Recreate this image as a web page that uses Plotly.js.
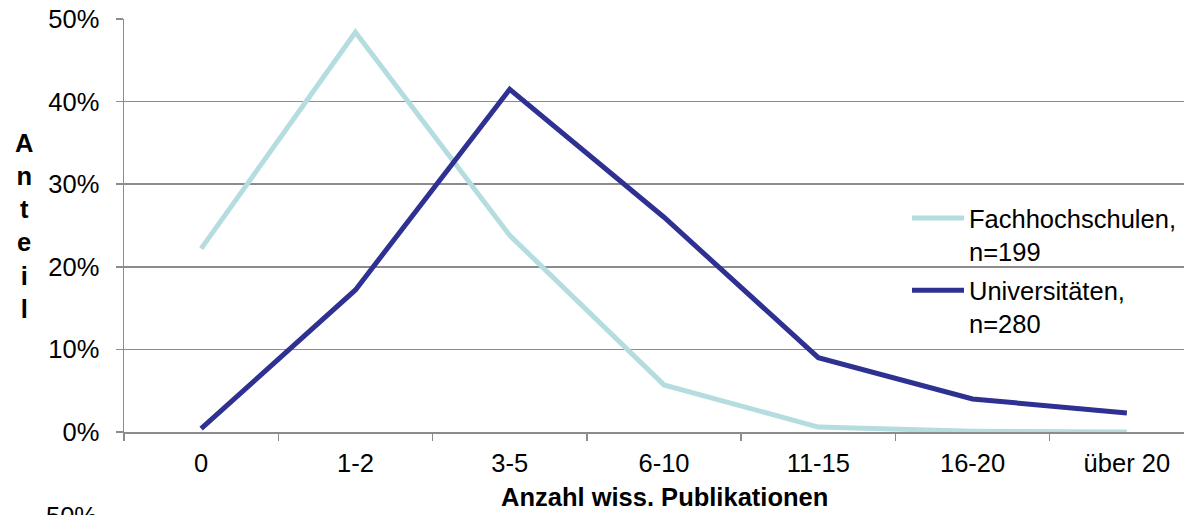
<!DOCTYPE html>
<html>
<head>
<meta charset="utf-8">
<script src="https://cdn.plot.ly/plotly-3.0.1.min.js"></script>
<style>
html, body { margin: 0; padding: 0; overflow: hidden; background: #fff; }
#chart { width: 1210px; height: 515px; }
</style>
</head>
<body>
<div id="chart"></div>
<script>
// Data
const categories = ['0', '1-2', '3-5', '6-10', '11-15', '16-20', 'über 20'];
const fachhochschulen = [0.222, 0.484, 0.238, 0.057, 0.006, 0.001, 0.000];
const universitaeten = [0.004, 0.172, 0.415, 0.260, 0.090, 0.040, 0.023];
const seriesNames = ['Fachhochschulen,<br>n=199', 'Universitäten,<br>n=280'];
const yTitle = 'A<br>n<br>t<br>e<br>i<br>l';
const xTitle = 'Anzahl wiss. Publikationen';

const FONT = 'Liberation Sans, Arial, sans-serif';
const FS = 25.5;

const traces = [
  {
    x: categories, y: fachhochschulen, name: seriesNames[0], legendgroup: 'fh',
    type: 'scatter', mode: 'lines',
    line: { color: '#B5DDE0', width: 5 }
  },
  {
    x: categories, y: universitaeten, name: seriesNames[1], legendgroup: 'uni',
    type: 'scatter', mode: 'lines',
    line: { color: '#2E3192', width: 5 }
  }
];

const layout = {
  width: 1210, height: 515,
  margin: { l: 124, r: 6, t: 19, b: 83 },
  paper_bgcolor: '#fff', plot_bgcolor: '#fff',
  font: { family: FONT, size: FS, color: '#000' },
  showlegend: true,
  legend: {
    x: 0.725, y: 0.574, xanchor: 'left', yanchor: 'top',
    bgcolor: 'rgba(0,0,0,0)', borderwidth: 0,
    font: { family: FONT, size: FS, color: '#000' },
    valign: 'top', itemwidth: 52, tracegroupgap: 3
  },
  xaxis: {
    type: 'category', range: [-0.5, 6.5],
    showgrid: false, zeroline: false,
    showline: true, linecolor: '#8c8c8c', linewidth: 1.5,
    ticks: 'outside', tickson: 'boundaries', ticklen: 7, tickwidth: 1.5, tickcolor: '#8c8c8c',
    ticklabelstandoff: 8,
    tickfont: { family: FONT, size: FS, color: '#000' },
    fixedrange: true
  },
  yaxis: {
    range: [0, 0.5], dtick: 0.1, tickformat: '.0%',
    showgrid: true, gridcolor: '#8c8c8c', gridwidth: 1.5,
    zeroline: false,
    showline: true, linecolor: '#8c8c8c', linewidth: 1.5,
    ticks: 'outside', ticklen: 7, tickwidth: 1.5, tickcolor: '#8c8c8c',
    ticklabelstandoff: 11,
    tickfont: { family: FONT, size: FS, color: '#000' },
    fixedrange: true
  },
  annotations: [
    {
      text: '<b>' + yTitle + '</b>', xref: 'paper', yref: 'paper',
      x: -0.093, y: 0.5, xanchor: 'center', yanchor: 'middle',
      showarrow: false, align: 'center',
      font: { family: FONT, size: FS, color: '#000' }
    },
    {
      text: '<b>' + xTitle + '</b>', xref: 'paper', yref: 'paper',
      x: 0.5, y: -0.157, xanchor: 'center', yanchor: 'middle',
      showarrow: false,
      font: { family: FONT, size: FS, color: '#000' }
    },
    {
      text: '50%', xref: 'paper', yref: 'paper',
      x: -0.023, y: -0.204, xanchor: 'right', yanchor: 'middle',
      showarrow: false,
      font: { family: FONT, size: FS, color: '#000' }
    }
  ]
};

Plotly.newPlot('chart', traces, layout, { displayModeBar: false, staticPlot: true });
</script>
</body>
</html>
